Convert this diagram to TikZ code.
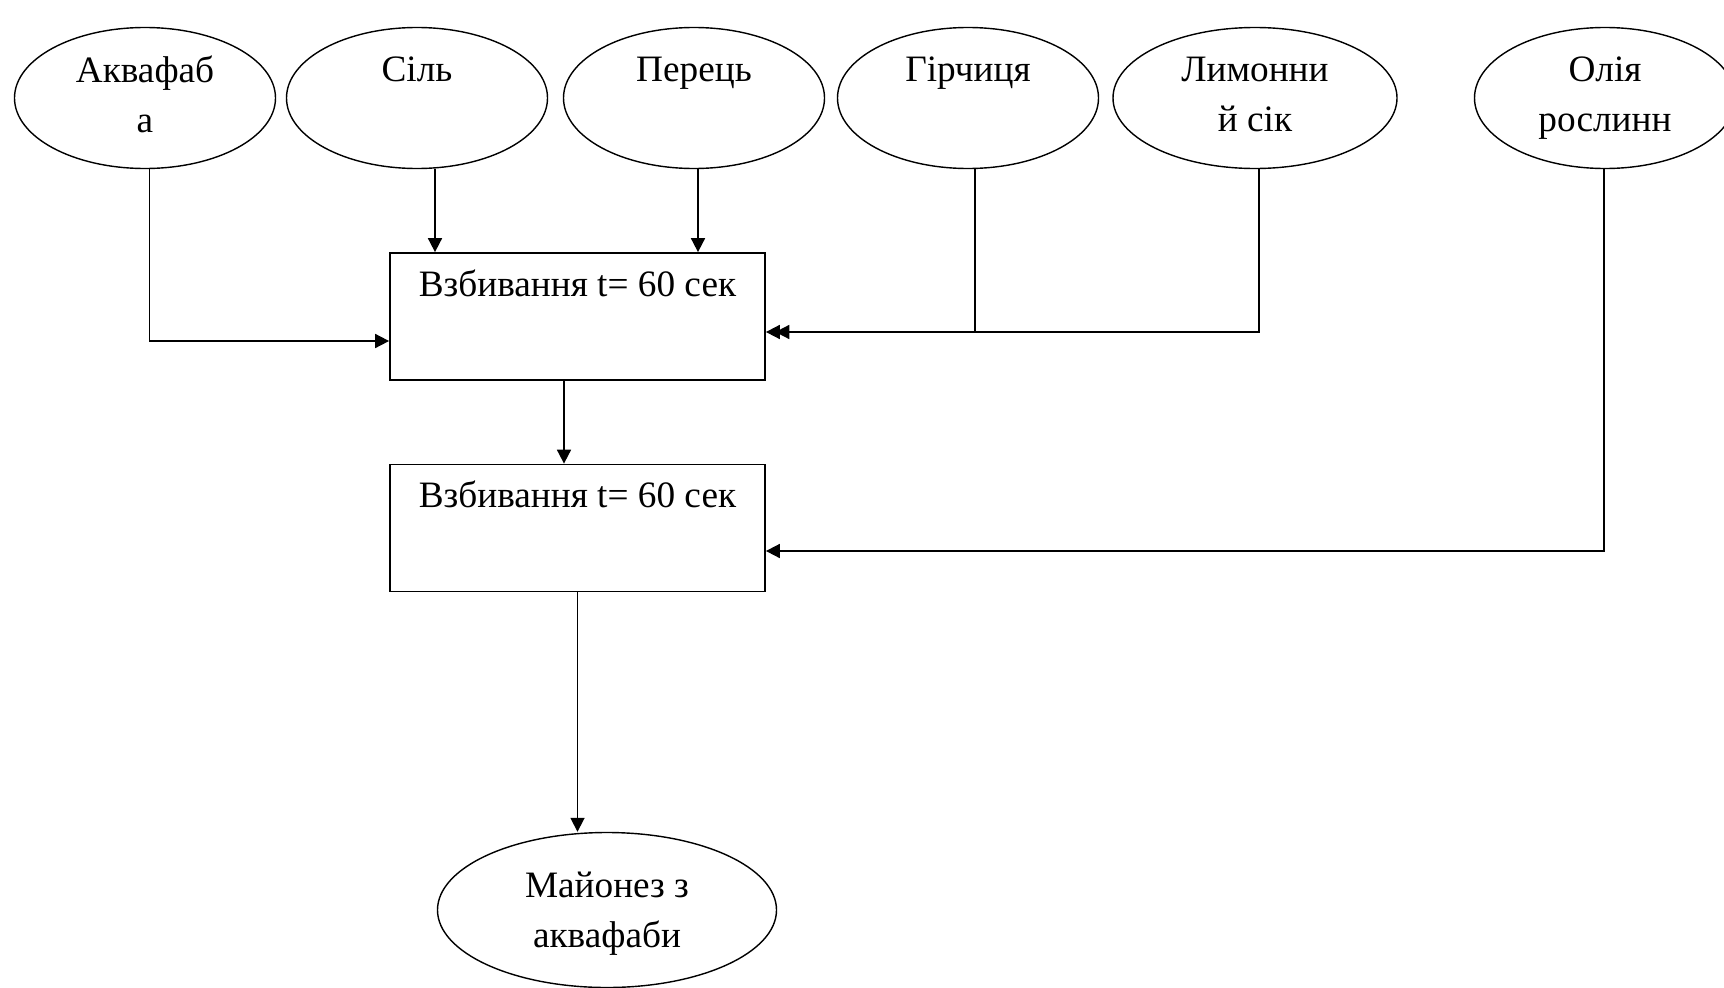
\documentclass[tikz,border=0pt]{standalone}
\usepackage{fontspec}
\setmainfont{Liberation Serif}
\usetikzlibrary{positioning,arrows.meta,shapes.geometric}

\begin{document}
\begin{tikzpicture}[x=0.2mm,y=-0.2mm,
  ingr/.style={draw,ellipse,line width=0.8pt,minimum width=52.2mm,minimum height=28.2mm,inner sep=0pt,align=center,text depth=4.5pt,font=\fontsize{21.2}{28.5}\selectfont},
  stage/.style={draw,rectangle,line width=1pt,minimum width=75mm,minimum height=25.4mm,inner sep=0pt,align=center,font=\fontsize{21.2}{28.5}\selectfont},
  arr/.style={-{Triangle[length=2.8mm,width=2.8mm]},line width=1pt}]
\useasboundingbox (0,0) rectangle (1724,987);
% ingredients
\node[ingr] (aqua) at (145,98) {Аквафаб\\а};
\node[ingr] (salt) at (417,98) {Сіль\\~};
\node[ingr] (pepper) at (694,98) {Перець\\~};
\node[ingr] (mustard) at (968,98) {Гірчиця\\~};
\node[ingr,minimum width=56.8mm] (lemon) at (1255,98) {Лимонни\\й сік};
\node[ingr] (oil) at (1605,98) {Олія\\рослинн};
% stages
\node[stage] (whip1) at (577.5,316.5) {Взбивання t= 60 сек\\[10pt]~};
\node[stage] (whip2) at (577.5,528) {Взбивання t= 60 сек\\[10pt]~};
\node[ingr,minimum width=67.8mm,minimum height=31mm,text depth=0pt] (mayo) at (607,910) {Майонез з\\аквафаби};
% flows
\draw[arr] ([xshift=0.9mm]aqua.south) |- ([yshift=-4.9mm]whip1.west);
\draw[arr] ([xshift=3.6mm]salt.south) -- ([xshift=3.6mm]salt.south |- whip1.north);
\draw[arr] ([xshift=0.8mm]pepper.south) -- ([xshift=0.8mm]pepper.south |- whip1.north);
\draw[arr] ([xshift=1.4mm]mustard.south) |- ([yshift=-3.1mm]whip1.east);
\draw[arr,shorten >=1.9mm] ([xshift=0.8mm]lemon.south) |- ([yshift=-3.1mm]whip1.east);
\draw[arr] ([xshift=-2.7mm]whip1.south) -- ([xshift=-2.7mm]whip1.south |- whip2.north);
\draw[arr] ([xshift=-0.2mm]oil.south) |- ([yshift=-4.6mm]whip2.east);
\draw[arr] (whip2.south) -- (whip2.south |- mayo.north);
\end{tikzpicture}
\end{document}
